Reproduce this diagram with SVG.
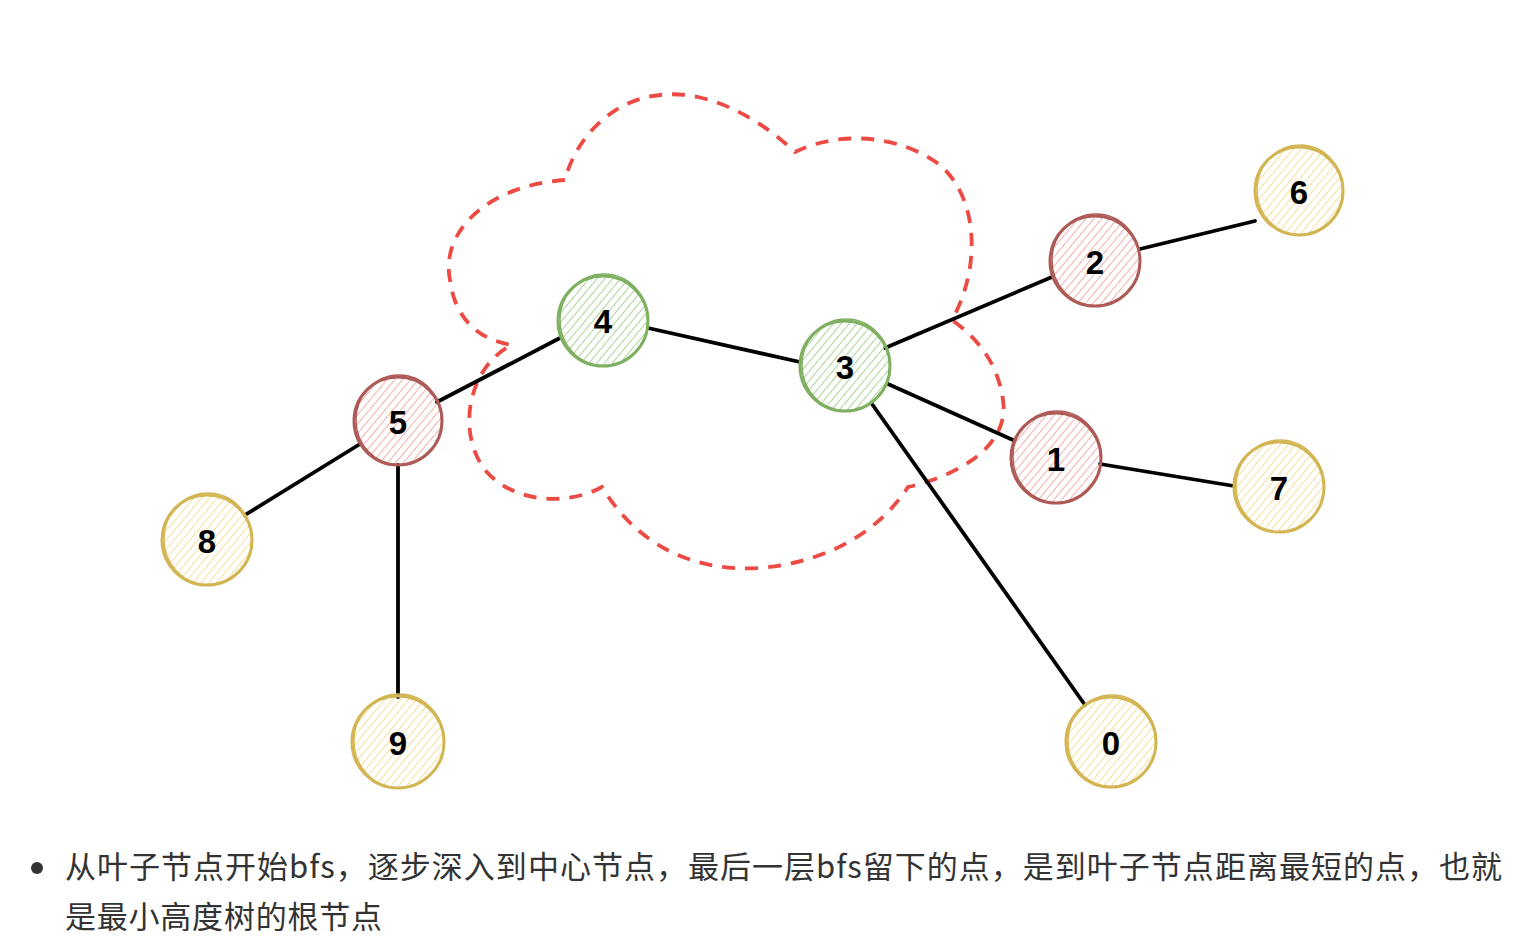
<svg xmlns="http://www.w3.org/2000/svg" width="1520" height="946" viewBox="0 0 1520 946">
<defs>
<pattern id="hg" patternUnits="userSpaceOnUse" width="6" height="6" patternTransform="rotate(40)"><line x1="0" y1="0" x2="0" y2="6" stroke="#acd598" stroke-width="2"/></pattern>
<pattern id="hr" patternUnits="userSpaceOnUse" width="6" height="6" patternTransform="rotate(40)"><line x1="0" y1="0" x2="0" y2="6" stroke="#efb0ad" stroke-width="2"/></pattern>
<pattern id="hy" patternUnits="userSpaceOnUse" width="6" height="6" patternTransform="rotate(40)"><line x1="0" y1="0" x2="0" y2="6" stroke="#f5e09a" stroke-width="2"/></pattern>
</defs>
<style>
.edge{stroke:#000;stroke-width:3.8;fill:none;stroke-linecap:round}
.cloud{stroke:#ec4a43;stroke-width:3.8;fill:none;stroke-dasharray:13 10}
.g .c{fill:url(#hg);stroke:#7fb061;stroke-width:3}
.r .c{fill:url(#hr);stroke:#ae5a56;stroke-width:3}
.y .c{fill:url(#hy);stroke:#d3b553;stroke-width:3}
.g .c2{fill:none;stroke:#7fb061;stroke-width:1.4}
.r .c2{fill:none;stroke:#ae5a56;stroke-width:1.4}
.y .c2{fill:none;stroke:#d3b553;stroke-width:1.4}
.lbl{font-family:"Liberation Sans",Arial,sans-serif;font-weight:bold;font-size:33px;fill:#000;text-anchor:middle}
.txt{font-family:"Noto Sans CJK SC",sans-serif;font-size:31px;fill:#333}
</style>
<rect width="1520" height="946" fill="#fff"/>
<path class="cloud" d="M565,180 C490,185 440,230 450,280 C455,320 480,340 512,345 C470,365 455,430 485,470 C515,505 570,505 602,487 C640,550 700,572 760,568 C830,562 880,530 908,487 C960,475 1010,445 1003,400 C998,365 980,340 952,320 C980,270 980,200 940,165 C900,135 840,130 795,152 C750,110 700,90 660,95 C610,100 575,140 565,180 Z"/>
<g id="connectors">
<line class="edge" x1="437" y1="402" x2="560" y2="338"/>
<line class="edge" x1="648" y1="328" x2="800" y2="362"/>
<line class="edge" x1="885" y1="348" x2="1052" y2="277"/>
<line class="edge" x1="888" y1="384" x2="1013" y2="440"/>
<line class="edge" x1="872" y1="404" x2="1085" y2="705"/>
<line class="edge" x1="1140" y1="249" x2="1255" y2="221"/>
<line class="edge" x1="1100" y1="464" x2="1234" y2="486"/>
<line class="edge" x1="360" y1="444" x2="245" y2="515"/>
<line class="edge" x1="398" y1="465" x2="398" y2="697"/>
</g>
<g id="node4" class="g"><circle class="c" cx="603" cy="321" r="45"/><ellipse class="c2" cx="604" cy="320" rx="44" ry="46"/><text class="lbl" x="603" y="333">4</text></g>
<g id="node3" class="g"><circle class="c" cx="845" cy="366" r="45"/><ellipse class="c2" cx="846" cy="365" rx="44" ry="46"/><text class="lbl" x="845" y="379">3</text></g>
<g id="node5" class="r"><circle class="c" cx="398" cy="421" r="44"/><ellipse class="c2" cx="399" cy="420" rx="43" ry="45"/><text class="lbl" x="398" y="434">5</text></g>
<g id="node2" class="r"><circle class="c" cx="1095" cy="261" r="45"/><ellipse class="c2" cx="1096" cy="260" rx="44" ry="46"/><text class="lbl" x="1095" y="274">2</text></g>
<g id="node1" class="r"><circle class="c" cx="1056" cy="458" r="45"/><ellipse class="c2" cx="1057" cy="457" rx="44" ry="46"/><text class="lbl" x="1056" y="471">1</text></g>
<g id="node6" class="y"><circle class="c" cx="1299" cy="191" r="44"/><ellipse class="c2" cx="1300" cy="190" rx="43" ry="45"/><text class="lbl" x="1299" y="204">6</text></g>
<g id="node7" class="y"><circle class="c" cx="1279" cy="487" r="45"/><ellipse class="c2" cx="1280" cy="486" rx="44" ry="46"/><text class="lbl" x="1279" y="500">7</text></g>
<g id="node8" class="y"><circle class="c" cx="207" cy="540" r="45"/><ellipse class="c2" cx="208" cy="539" rx="44" ry="46"/><text class="lbl" x="207" y="553">8</text></g>
<g id="node9" class="y"><circle class="c" cx="398" cy="742" r="46"/><ellipse class="c2" cx="399" cy="741" rx="45" ry="47"/><text class="lbl" x="398" y="755">9</text></g>
<g id="node0" class="y"><circle class="c" cx="1111" cy="742" r="45"/><ellipse class="c2" cx="1112" cy="741" rx="44" ry="46"/><text class="lbl" x="1111" y="755">0</text></g>
<circle cx="37" cy="868" r="6" fill="#333"/>
<text class="txt" x="65" y="878" textLength="1437" lengthAdjust="spacing">从叶子节点开始bfs，逐步深入到中心节点，最后一层bfs留下的点，是到叶子节点距离最短的点，也就</text>
<text class="txt" x="65" y="928" textLength="317" lengthAdjust="spacing">是最小高度树的根节点</text>
</svg>
